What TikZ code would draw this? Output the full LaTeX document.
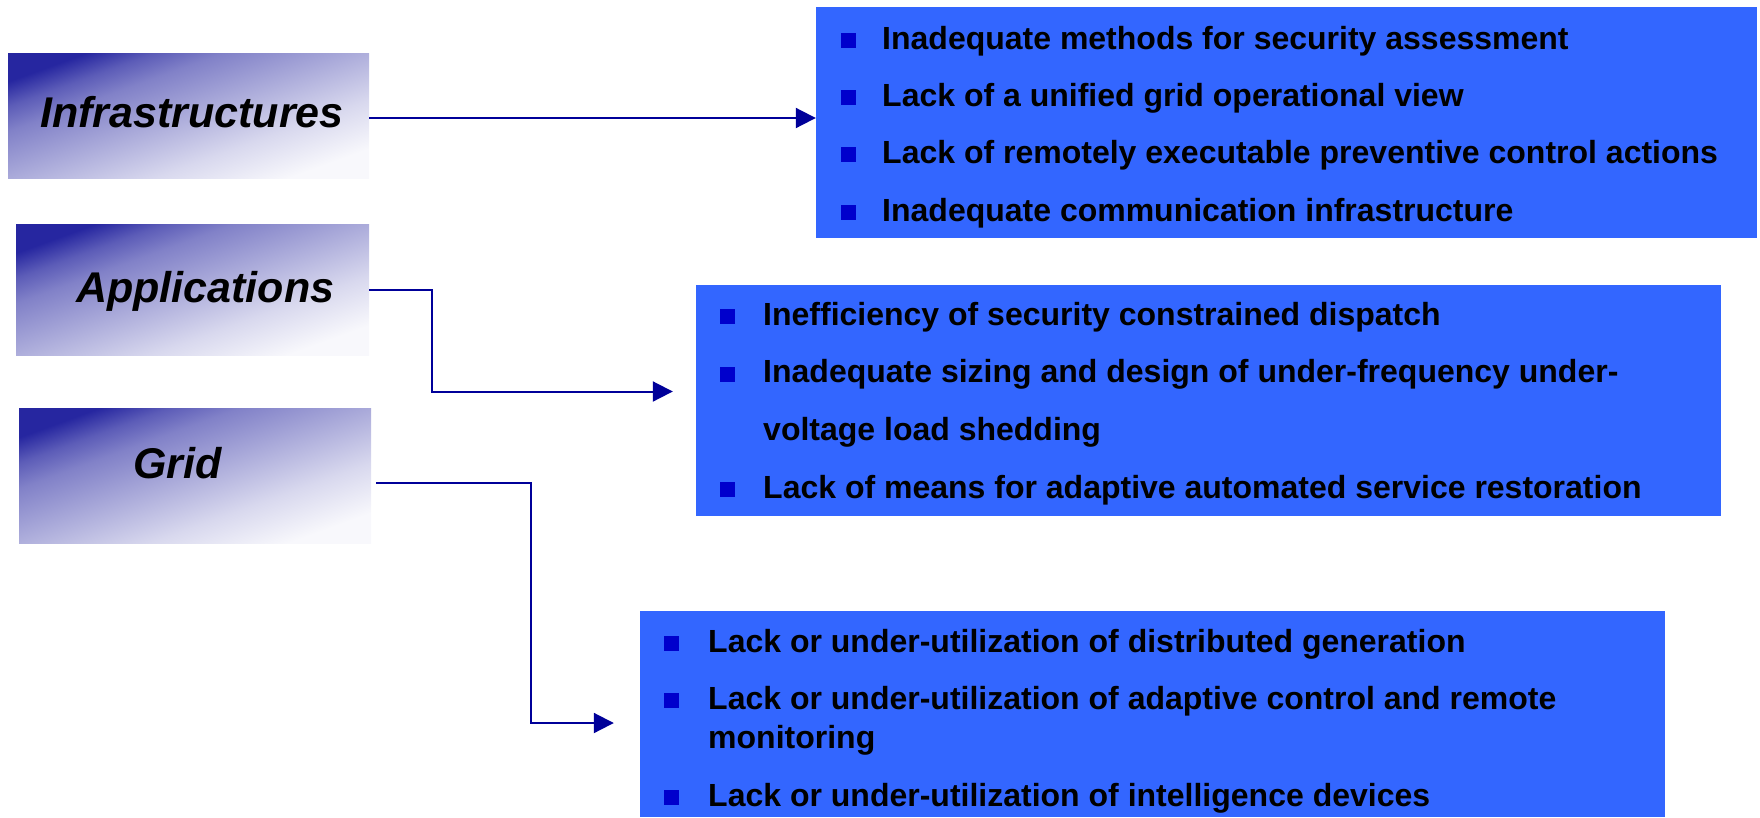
\documentclass[tikz,border=0pt]{standalone}
\usepackage{fontspec}
\setmainfont{Liberation Sans}
\usetikzlibrary{arrows.meta,positioning}

\definecolor{issueblue}{HTML}{3366FF}
\definecolor{bulletblue}{HTML}{0000CC}
\definecolor{arrowblue}{HTML}{000099}
\definecolor{catdark}{HTML}{2626A0}

% dark top left corner fading to white at the bottom right
\pgfdeclareverticalshading{catshade}{100bp}{color(0bp)=(catdark!3!white); color(25bp)=(catdark!3!white);
  color(37.5bp)=(catdark!18!white); color(50bp)=(catdark!38!white); color(62.5bp)=(catdark!58!white);
  color(68.75bp)=(catdark!75!white); color(75bp)=(catdark); color(100bp)=(catdark)}

\tikzset{
  catbox/.style={rectangle, inner sep=0pt, shade, shading=catshade, shading angle=20},
  cattext/.style={anchor=base west, inner sep=0pt, font=\fontsize{43}{50}\selectfont\bfseries\itshape},
  issuebox/.style={rectangle, inner sep=0pt, fill=issueblue},
  issuetext/.style={anchor=base west, inner sep=0pt, align=left, font=\fontsize{32}{38}\selectfont\bfseries},
  bulletsq/.style={rectangle, inner sep=0pt, minimum size=15pt, fill=bulletblue},
  flow/.style={draw=arrowblue, line width=2pt, -{Triangle[length=20pt,width=20pt]}}
}

\begin{document}
\begin{tikzpicture}[x=1pt,y=-1pt]
    \useasboundingbox (0,0) rectangle (1760,817);

    % left hand categories
    \node[catbox, minimum width=361pt, minimum height=125pt] (infra) at (188.5,115.5) {};
    \node[cattext] (infraT) at (40,127) {Infrastructures};
    \node[catbox, minimum width=353pt, minimum height=131pt] (apps) at (192.5,289.5) {};
    \node[cattext] (appsT) at (76,302) {Applications};
    \node[catbox, minimum width=352pt, minimum height=135pt] (grid) at (195,475.5) {};
    \node[cattext] (gridT) at (133,478) {Grid};

    % issue boxes
    \node[issuebox, minimum width=941pt, minimum height=231pt] (infraIss) at (1286.5,122.5) {};
    \node[issuebox, minimum width=1025pt, minimum height=231pt] (appIss) at (1208.5,400.5) {};
    \node[issuebox, minimum width=1025pt, minimum height=206pt] (gridIss) at (1152.5,714) {};

    \node[bulletsq] (b1a) at (848,40.5) {};
    \node[issuetext] (t1a) at (882,49) {Inadequate methods for security assessment};
    \node[bulletsq] (b1b) at (848,97.5) {};
    \node[issuetext] (t1b) at (882,106) {Lack of a unified grid operational view};
    \node[bulletsq] (b1c) at (848,154.5) {};
    \node[issuetext] (t1c) at (882,163) {Lack of remotely executable preventive control actions};
    \node[bulletsq] (b1d) at (848,212.5) {};
    \node[issuetext] (t1d) at (882,221) {Inadequate communication infrastructure};

    \node[bulletsq] (b2a) at (727,316.5) {};
    \node[issuetext] (t2a) at (763,325) {Inefficiency of security constrained dispatch};
    \node[bulletsq] (b2b) at (727,374.5) {};
    \node[issuetext, font=\fontsize{32}{57.5}\selectfont\bfseries] (t2b) at (763,440) {Inadequate sizing and design of under-frequency under-\\voltage load shedding};
    \node[bulletsq] (b2c) at (727,489.5) {};
    \node[issuetext] (t2c) at (763,498) {Lack of means for adaptive automated service restoration};

    \node[bulletsq] (b3a) at (671.5,643.5) {};
    \node[issuetext] (t3a) at (708,652) {Lack or under-utilization of distributed generation};
    \node[bulletsq] (b3b) at (671.5,700.5) {};
    \node[issuetext, font=\fontsize{32}{39}\selectfont\bfseries] (t3b) at (708,748) {Lack or under-utilization of adaptive control and remote\\monitoring};
    \node[bulletsq] (b3c) at (671.5,797.5) {};
    \node[issuetext] (t3c) at (708,806) {Lack or under-utilization of intelligence devices};

    % connectors
    \coordinate (a1) at ([yshift=-2.5pt]infra.east);
    \draw[flow] (a1) -- (a1 -| infraIss.west);
    \draw[flow] (apps.east) -- ++(63,0) |- ([xshift=-23pt,yshift=9pt]appIss.west);
    \coordinate (a3) at ([xshift=5pt,yshift=-7.5pt]grid.east);
    \draw[flow] (a3) -- ++(155,0) |- ([xshift=-26pt,yshift=-9pt]gridIss.west);
  \end{tikzpicture}
\end{document}
